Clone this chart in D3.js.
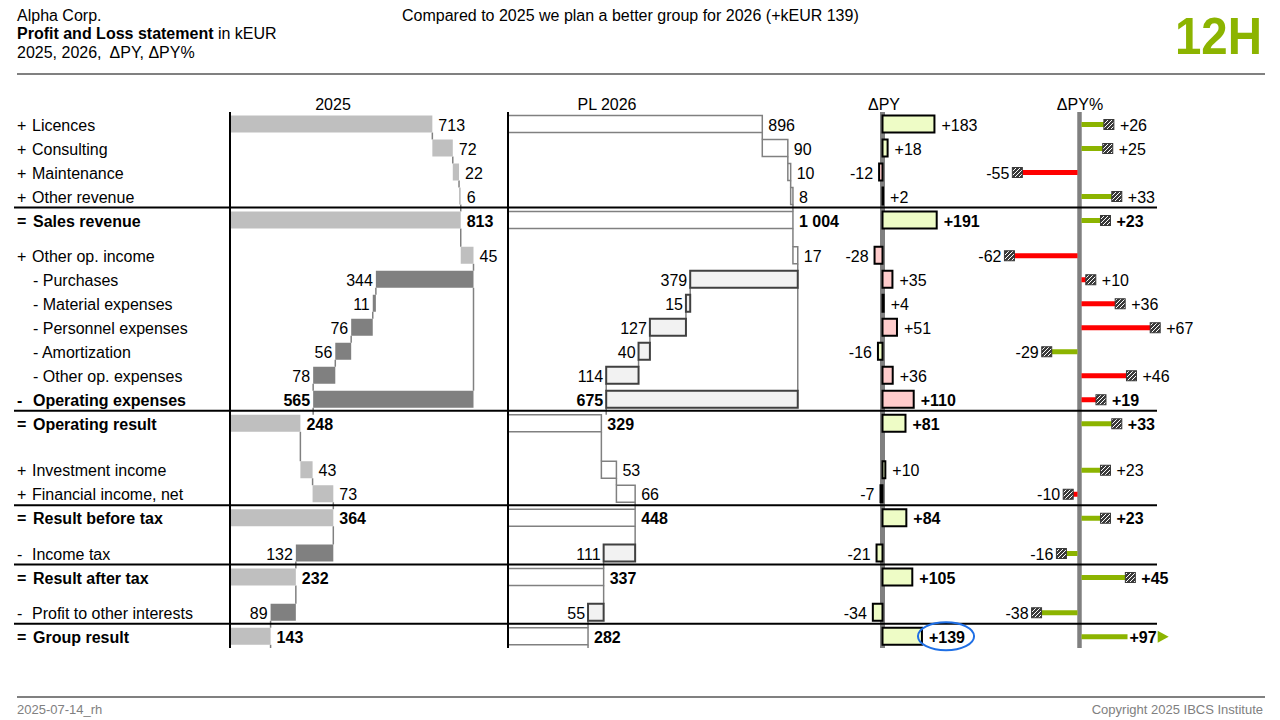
<!DOCTYPE html>
<html><head><meta charset="utf-8">
<script src="https://cdn.jsdelivr.net/npm/d3@7"></script>
<style>body{margin:0;background:#fff}svg{font-family:"Liberation Sans",Arial,Helvetica,sans-serif}</style>
</head><body>
<svg id="c" width="1280" height="720"></svg>
<script>
// ---------------- DATA ----------------
const categories = ["Licences","Consulting","Maintenance","Other revenue","Sales revenue","Other op. income","Purchases","Material expenses","Personnel expenses","Amortization","Other op. expenses","Operating expenses","Operating result","Investment income","Financial income, net","Result before tax","Income tax","Result after tax","Profit to other interests","Group result"];
const rowKinds = ["add","add","add","add","total","add","sub","sub","sub","sub","sub","subtotal","total","add","add","total","minus","total","minus","total"];
const values2025 = [713,72,22,6,813,45,344,11,76,56,78,565,248,43,73,364,132,232,89,143];
const values2026 = [896,90,10,8,1004,17,379,15,127,40,114,675,329,53,66,448,111,337,55,282];
const deltaPY = [183,18,-12,2,191,-28,35,4,51,-16,36,110,81,10,-7,84,-21,105,-34,139];
const deltaPYpct = [26,25,-55,33,23,-62,10,36,67,-29,46,19,33,23,-10,23,-16,45,-38,97];
const columnTitles = ["2025","PL 2026","\u0394PY","\u0394PY%"];
const headerLines = ["Alpha Corp.","Profit and Loss statement"," in kEUR","2025, 2026,\u00a0 \u0394PY, \u0394PY%"];
const message = "Compared to 2025 we plan a better group for 2026 (+kEUR 139)";
const badge = "12H";
const footerLeft = "2025-07-14_rh";
const footerRight = "Copyright 2025 IBCS Institute";

// ---------------- LAYOUT ----------------
const svg = d3.select("#c");
const FS = 16;
const rowStep = 24, firstRowY = 124, gapUnit = 11.25, barH = 17;
const gapBefore = {5:1, 13:2, 16:1, 18:1};
const rowY = [];
{ let y = firstRowY; categories.forEach((c,i)=>{ if(i>0) y += rowStep + (gapBefore[i]||0)*gapUnit; rowY.push(y); }); }
const textDy = 6.5;
const axisTop = 112, axisBottom = 648;
const unitPx = 283.8; // px per 1000 kEUR
const x25 = d3.scaleLinear().domain([0,1000]).range([230,230+unitPx]);
const x26 = d3.scaleLinear().domain([0,1000]).range([508,508+unitPx]);
const xD = d3.scaleLinear().domain([0,1000]).range([882.5,882.5+unitPx]);
const xP = d3.scaleLinear().domain([0,100]).range([1079.5,1079.5+113]);
const pctBreak = 70, pctShownAtBreak = 42.5;

const loc = d3.formatLocale({decimal:".", thousands:" ", grouping:[3], currency:["",""], minus:"-"});
const fmt = loc.format(",");
const fmtD = loc.format("+,");

const GREEN = "#8cb400", RED = "#ff0000";
const isCost = i => rowKinds[i]==="sub" || rowKinds[i]==="minus" || rowKinds[i]==="subtotal";
const isBold = i => rowKinds[i]==="total" || rowKinds[i]==="subtotal";
const good = (i,v) => isCost(i) ? v<0 : v>0;

function waterfall(vals){
  let cum = 0; const res = [];
  vals.forEach((v,i)=>{
    const kind = rowKinds[i]; let s,e;
    if(kind==="total"){ s=0; e=v; cum=v; }
    else if(kind==="add"){ s=cum; e=cum+v; cum=e; }
    else if(kind==="sub"||kind==="minus"){ s=cum-v; e=cum; cum=s; }
    else { s=cum; e=cum+v; }
    res.push({s,e,next:cum,v});
  });
  return res;
}

// pattern for markers
const defs = svg.append("defs");
const pat = defs.append("pattern").attr("id","hatch").attr("patternUnits","userSpaceOnUse").attr("width",4).attr("height",4);
pat.append("rect").attr("width",4).attr("height",4).attr("fill","#3a3a3a");
pat.append("path").attr("d","M0,4 L4,0 M-1,1 L1,-1 M3,5 L5,3").attr("stroke","#fff").attr("stroke-width",1);

// ---------------- HEADER ----------------
svg.append("text").attr("x",17).attr("y",20.5).attr("font-size",FS).text(headerLines[0]);
const t2 = svg.append("text").attr("x",17).attr("y",38.5).attr("font-size",FS);
t2.append("tspan").attr("font-weight","bold").text(headerLines[1]);
t2.append("tspan").text(headerLines[2]);
svg.append("text").attr("x",17).attr("y",57.5).attr("font-size",FS).text(headerLines[3]);
svg.append("text").attr("x",402).attr("y",20.5).attr("font-size",FS).text(message);
svg.append("text").attr("x",1262).attr("y",54).attr("text-anchor","end").attr("font-size",52).attr("font-weight","bold")
  .attr("fill",GREEN).attr("textLength",87).attr("lengthAdjust","spacingAndGlyphs").text(badge);
svg.append("line").attr("x1",17).attr("x2",1265).attr("y1",74).attr("y2",74).attr("stroke","#808080").attr("stroke-width",2);

// column titles
[333,607,884,1080].forEach((cx,j)=>{
  svg.append("text").attr("x",cx).attr("y",110).attr("text-anchor","middle").attr("font-size",FS).text(columnTitles[j]);
});

// ---------------- ROW LABELS ----------------
categories.forEach((c,i)=>{
  const y = rowY[i]+textDy, k = rowKinds[i];
  const g = svg.append("g").attr("font-size",FS).attr("font-weight",isBold(i)?"bold":"normal");
  if(k==="sub"){ g.append("text").attr("x",33).attr("y",y).text("- "+c); }
  else {
    const sign = k==="add" ? "+" : (k==="total" ? "=" : "-");
    g.append("text").attr("x",17).attr("y",y).text(sign);
    g.append("text").attr("x",isBold(i)?33:32).attr("y",y).text(c);
  }
});

// ---------------- WATERFALL COLUMNS ----------------
function drawWaterfall(vals, x, style){
  const w = waterfall(vals);
  const g = svg.append("g");
  w.forEach((d,i)=>{
    if(i<w.length-1){
      g.append("line").attr("x1",x(d.next)).attr("x2",x(d.next))
        .attr("y1",rowY[i]+barH/2).attr("y2",rowY[i+1]-barH/2)
        .attr("stroke","#808080").attr("stroke-width",1.5);
    } else {
      g.append("line").attr("x1",x(d.e)).attr("x2",x(d.e)).attr("y1",rowY[i]+barH/2).attr("y2",axisBottom)
        .attr("stroke","#808080").attr("stroke-width",1.5);
    }
    if(rowKinds[i]==="subtotal"){
      let j=i; while(j>0 && rowKinds[j-1]==="sub") j--;
      g.append("line").attr("x1",x(d.e)).attr("x2",x(d.e)).attr("y1",rowY[j]+barH/2).attr("y2",rowY[i]-barH/2)
        .attr("stroke","#808080").attr("stroke-width",1.5);
    }
  });
  w.forEach((d,i)=>{
    const cost = isCost(i);
    const r = g.append("rect").attr("x",x(d.s)).attr("y",rowY[i]-barH/2)
      .attr("width",Math.max(0,x(d.e)-x(d.s))).attr("height",barH);
    if(style==="py"){ r.attr("fill",cost?"#808080":"#bfbfbf"); }
    else {
      if(cost) r.attr("fill","#f2f2f2").attr("stroke","#404040").attr("stroke-width",2);
      else r.attr("fill","#fff").attr("stroke","#808080").attr("stroke-width",1.5);
    }
  });
  w.forEach((d,i)=>{
    const cost = isCost(i);
    g.append("text").attr("x",cost? x(d.s)-3 : x(d.e)+6).attr("y",rowY[i]+textDy)
      .attr("text-anchor",cost?"end":"start").attr("font-size",FS)
      .attr("font-weight",isBold(i)?"bold":"normal").text(fmt(d.v));
  });
}
drawWaterfall(values2025, x25, "py");
drawWaterfall(values2026, x26, "pl");

[230,508].forEach(ax=>{
  svg.append("line").attr("x1",ax).attr("x2",ax).attr("y1",axisTop).attr("y2",axisBottom).attr("stroke","#000").attr("stroke-width",2);
});

// ---------------- DELTA PY ----------------
svg.append("line").attr("x1",xD(0)).attr("x2",xD(0)).attr("y1",axisTop).attr("y2",axisBottom).attr("stroke","#808080").attr("stroke-width",5);
const dg = svg.append("g");
deltaPY.forEach((v,i)=>{
  const x0 = Math.min(xD(0),xD(v)), x1 = Math.max(xD(0),xD(v));
  dg.append("rect").attr("x",x0).attr("y",rowY[i]-barH/2).attr("width",x1-x0).attr("height",barH)
    .attr("fill",good(i,v)?"#eefcc6":"#ffcccc").attr("stroke","#000").attr("stroke-width",2);
  dg.append("text").attr("x",v>=0? xD(v)+7 : xD(v)-6).attr("y",rowY[i]+textDy)
    .attr("text-anchor",v>=0?"start":"end").attr("font-size",FS)
    .attr("font-weight",isBold(i)?"bold":"normal").attr("class","dlab").text(fmtD(v));
});

// ---------------- DELTA PY % ----------------
svg.append("line").attr("x1",xP(0)).attr("x2",xP(0)).attr("y1",axisTop).attr("y2",axisBottom).attr("stroke","#808080").attr("stroke-width",4.5);
const pg = svg.append("g");
deltaPYpct.forEach((v,i)=>{
  const y = rowY[i]+0.5, col = good(i,v)?GREEN:RED;
  if(Math.abs(v) > pctBreak){
    const xe = xP(Math.sign(v)*pctShownAtBreak);
    pg.append("line").attr("x1",xP(0)+2).attr("x2",xe).attr("y1",y).attr("y2",y).attr("stroke",col).attr("stroke-width",5);
    const t = pg.append("text").attr("x",xe+2).attr("y",rowY[i]+textDy).attr("font-size",FS)
      .attr("font-weight",isBold(i)?"bold":"normal").text(fmtD(v));
    const tx = xe+2+t.node().getComputedTextLength()+1;
    pg.append("path").attr("d",`M${tx},${y-6} L${tx+11},${y} L${tx},${y+6} Z`).attr("fill",col);
  } else {
    const xe = xP(v);
    pg.append("line").attr("x1",v>=0?xP(0)+2:xP(0)-2).attr("x2",xe).attr("y1",y).attr("y2",y).attr("stroke",col).attr("stroke-width",5);
    pg.append("rect").attr("x",xe-5).attr("y",y-5).attr("width",10).attr("height",10).attr("fill","url(#hatch)")
      .attr("stroke","#3a3a3a").attr("stroke-width",1);
    pg.append("text").attr("x",v>=0? xe+11 : xe-8).attr("y",rowY[i]+textDy)
      .attr("text-anchor",v>=0?"start":"end").attr("font-size",FS)
      .attr("font-weight",isBold(i)?"bold":"normal").text(fmtD(v));
  }
});

// ---------------- SEPARATORS ----------------
rowKinds.forEach((k,i)=>{
  if(k==="total"){
    svg.append("line").attr("x1",14).attr("x2",1157).attr("y1",rowY[i]-12.5).attr("y2",rowY[i]-12.5).attr("stroke","#000").attr("stroke-width",2);
  }
});

// highlight ellipse on the group result delta
{
  const last = dg.selectAll("text.dlab").nodes()[categories.length-1];
  const bb = last.getBBox();
  svg.append("ellipse").attr("cx",bb.x+bb.width/2-1).attr("cy",rowY[categories.length-1]).attr("rx",bb.width/2+10).attr("ry",14)
    .attr("fill","none").attr("stroke","#1f6fe5").attr("stroke-width",2);
}

// ---------------- FOOTER ----------------
svg.append("line").attr("x1",17).attr("x2",1265).attr("y1",697).attr("y2",697).attr("stroke","#808080").attr("stroke-width",2);
svg.append("text").attr("x",17).attr("y",714).attr("font-size",13).attr("fill","#808080").text(footerLeft);
svg.append("text").attr("x",1263).attr("y",714).attr("font-size",13).attr("fill","#808080").attr("text-anchor","end").text(footerRight);
</script>
</body></html>
